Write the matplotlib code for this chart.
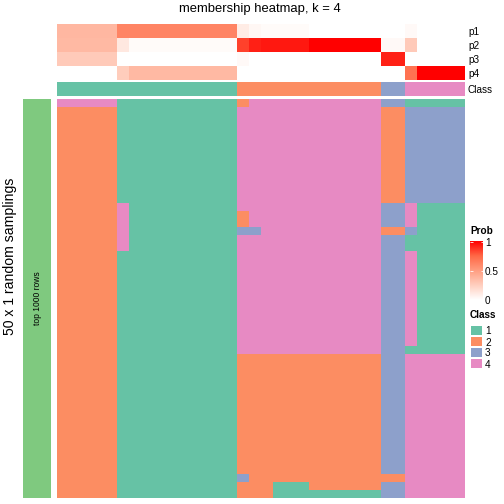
import numpy as np
import matplotlib
matplotlib.use('Agg')
import matplotlib.pyplot as plt
from matplotlib.colors import ListedColormap, LinearSegmentedColormap

plt.rcParams['font.family'] = ['Liberation Sans', 'DejaVu Sans']

W = H = 504

class_names = ['1', '2', '3', '4']
class_colors = ['#66C2A5', '#FC8D62', '#8DA0CB', '#E78AC3']

# membership probabilities per sample (34 samples)
prob_p1 = [0.37, 0.37, 0.37, 0.37, 0.37, 0.62, 0.62, 0.62, 0.62, 0.62, 0.62, 0.62,
           0.62, 0.62, 0.62, 0.10, 0.04, 0.02, 0.02, 0.02, 0.02, 0.0, 0.0, 0.0,
           0.0, 0.0, 0.0, 0.0, 0.0, 0.03, 0.0, 0.0, 0.0, 0.0]
prob_p2 = [0.36, 0.36, 0.36, 0.36, 0.36, 0.12, 0.02, 0.02, 0.02, 0.02, 0.02, 0.02,
           0.02, 0.02, 0.02, 0.84, 0.92, 0.94, 0.94, 0.94, 0.94, 1.0, 1.0, 1.0,
           1.0, 1.0, 1.0, 0.03, 0.03, 0.27, 0.0, 0.0, 0.0, 0.0]
prob_p3 = [0.27, 0.27, 0.27, 0.27, 0.27, 0.0, 0.0, 0.0, 0.0, 0.0, 0.0, 0.0,
           0.0, 0.0, 0.0, 0.03, 0.0, 0.0, 0.0, 0.0, 0.0, 0.0, 0.0, 0.0,
           0.0, 0.0, 0.0, 0.92, 0.92, 0.0, 0.0, 0.0, 0.0, 0.0]
prob_p4 = [0.0, 0.0, 0.0, 0.0, 0.0, 0.26, 0.36, 0.36, 0.36, 0.36, 0.36, 0.36,
           0.36, 0.36, 0.36, 0.0, 0.0, 0.0, 0.0, 0.0, 0.0, 0.0, 0.0, 0.0,
           0.0, 0.0, 0.0, 0.0, 0.0, 0.70, 1.0, 1.0, 1.0, 1.0]
sample_class = [1, 1, 1, 1, 1, 1, 1, 1, 1, 1, 1, 1, 1, 1, 1,
                2, 2, 2, 2, 2, 2, 2, 2, 2, 2, 2, 2, 3, 3, 4, 4, 4, 4, 4]

# class of each of the 50 samplings, per column, as "class:count" runs
column_runs = [
    "4:1 2:49",
    "1:13 4:6 1:31",
    "1:50",
    "2:1 4:13 2:2 3:1 4:15 2:15 3:1 2:2",
    "4:16 3:1 4:15 2:18",
    "4:32 2:18",
    "4:32 2:16 1:2",
    "4:32 2:17 1:1",
    "3:1 2:12 3:3 2:1 3:30 2:1 3:2",
    "1:1 3:12 4:3 3:1 1:2 4:12 1:1 4:18",
    "1:1 3:12 1:19 4:18",
]
column_repeat = [5, 1, 9, 1, 1, 1, 3, 6, 2, 1, 4]


def decode(runs):
    out = []
    for part in runs.split():
        c, n = part.split(':')
        out += [int(c)] * int(n)
    return out


cols = []
for runs, rep in zip(column_runs, column_repeat):
    cols += [decode(runs)] * rep
membership = np.array(cols).T

prob_cmap = LinearSegmentedColormap.from_list(
    'prob', [(0, '#FFFFFF'), (0.25, '#FFCFBF'), (0.5, '#FF9E81'),
             (0.75, '#FF6846'), (1, '#FF0000')])
class_cmap = ListedColormap(class_colors)


def box(x0, y0, x1, y1):
    return [x0 / W, 1 - y1 / H, (x1 - x0) / W, (y1 - y0) / H]


def clean(ax):
    for s in ax.spines.values():
        s.set_visible(False)
    ax.set_xticks([])


fig = plt.figure(figsize=(7, 7), dpi=72)

# top probability annotation
ax_p = fig.add_axes(box(57, 24, 465, 80))
ax_p.imshow(np.array([prob_p1, prob_p2, prob_p3, prob_p4]), cmap=prob_cmap,
            vmin=0, vmax=1, aspect='auto', interpolation='nearest')
clean(ax_p)
ax_p.yaxis.tick_right()
ax_p.set_yticks(range(4))
ax_p.set_yticklabels(['p1', 'p2', 'p3', 'p4'], fontsize=10)
ax_p.tick_params(axis='y', length=0, pad=3)

# class annotation
ax_c = fig.add_axes(box(57, 82, 465, 96))
ax_c.imshow(np.array([sample_class]), cmap=class_cmap, vmin=0.5, vmax=4.5,
            aspect='auto', interpolation='nearest')
clean(ax_c)
ax_c.yaxis.tick_right()
ax_c.set_yticks([0])
ax_c.set_yticklabels(['Class'], fontsize=10)
ax_c.tick_params(axis='y', length=0, pad=3)

# main membership heatmap
ax_m = fig.add_axes(box(57, 99, 465, 498))
ax_m.imshow(membership, cmap=class_cmap, vmin=0.5, vmax=4.5,
            aspect='auto', interpolation='nearest')
ax_m.axis('off')

# left row annotation
ax_l = fig.add_axes(box(23, 99, 51, 498))
ax_l.imshow([[0]], cmap=ListedColormap(['#7FC97F']), aspect='auto')
ax_l.axis('off')
ax_l.text(0.5, 0.5, 'top 1000 rows', rotation=90, ha='center', va='center',
          fontsize=8.5, transform=ax_l.transAxes)

fig.text(10 / W, 1 - 256 / H, '50 x 1 random samplings', rotation=90,
         ha='center', va='center', fontsize=14)
fig.text(260 / W, 1 - 9 / H, 'membership heatmap, k = 4', ha='center',
         va='center', fontsize=13)

# Prob legend
fig.text(470 / W, 1 - 231 / H, 'Prob', fontsize=10, fontweight='bold',
         ha='left', va='center')
ax_g = fig.add_axes(box(470, 240, 483, 300))
ax_g.imshow(np.linspace(1, 0, 200)[:, None], cmap=prob_cmap, vmin=0, vmax=1,
            aspect='auto', extent=[0, 1, 0, 1])
ax_g.set_ylim(0, 1.03)
clean(ax_g)
ax_g.set_yticks([0, 0.5, 1])
ax_g.set_yticklabels(['0', '0.5', '1'], fontsize=10)
ax_g.tick_params(axis='y', left=True, right=True, labelleft=False,
                 labelright=True, direction='in', length=2.5,
                 color='white', labelcolor='black', pad=2)

# Class legend
fig.text(470 / W, 1 - 315 / H, 'Class', fontsize=10, fontweight='bold',
         ha='left', va='center')
ax_k = fig.add_axes(box(471, 325, 482, 369))
ax_k.barh(range(4), [1] * 4, height=0.9, color=class_colors)
ax_k.set_xlim(0, 1)
ax_k.set_ylim(3.5, -0.5)
clean(ax_k)
ax_k.yaxis.tick_right()
ax_k.set_yticks(range(4))
ax_k.set_yticklabels(class_names, fontsize=10)
ax_k.tick_params(axis='y', length=0, pad=3)

fig.savefig('out.png', dpi=72)
